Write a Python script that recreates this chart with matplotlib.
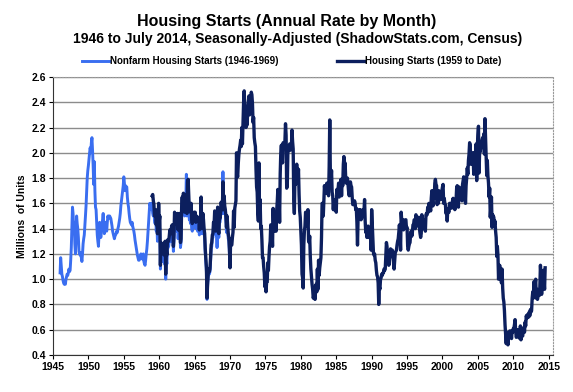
import numpy as np
import matplotlib.pyplot as plt

# Nonfarm housing starts, millions (annual rate), monthly from Jan 1946 to Dec 1969
nonfarm_start = 1946
nonfarm = [
    1.05, 1.17, 1.10, 1.04, 1.02, 0.99, 0.97, 0.96, 0.97, 0.96, 1.00, 1.02,
    1.04, 1.03, 1.05, 1.08, 1.06, 1.07, 1.15, 1.25, 1.40, 1.57, 1.52, 1.40,
    1.45, 1.28, 1.20, 1.35, 1.50, 1.44, 1.40, 1.33, 1.22, 1.20, 1.19, 1.21,
    1.17, 1.14, 1.20, 1.28, 1.32, 1.35, 1.42, 1.50, 1.58, 1.70, 1.80, 1.86,
    1.90, 1.95, 2.00, 2.04, 2.00, 2.08, 2.12, 2.02, 1.90, 1.75, 1.93, 1.70,
    1.57, 1.55, 1.45, 1.35, 1.30, 1.26, 1.35, 1.45, 1.40, 1.33, 1.38, 1.42,
    1.47, 1.52, 1.44, 1.36, 1.40, 1.45, 1.42, 1.38, 1.45, 1.50, 1.48, 1.50,
    1.50, 1.49, 1.48, 1.45, 1.42, 1.38, 1.36, 1.34, 1.32, 1.34, 1.35, 1.36,
    1.38, 1.37, 1.40, 1.42, 1.45, 1.48, 1.52, 1.58, 1.62, 1.66, 1.70, 1.74,
    1.81, 1.76, 1.70, 1.74, 1.72, 1.73, 1.65, 1.60, 1.57, 1.52, 1.48, 1.45,
    1.44, 1.43, 1.45, 1.42, 1.40, 1.38, 1.35, 1.31, 1.28, 1.25, 1.22, 1.19,
    1.17, 1.15, 1.15, 1.16, 1.18, 1.20, 1.17, 1.16, 1.18, 1.20, 1.14, 1.12,
    1.11, 1.15, 1.20, 1.24, 1.30, 1.38, 1.45, 1.52, 1.60, 1.58, 1.55, 1.60,
    1.58, 1.52, 1.50, 1.55, 1.47, 1.44, 1.50, 1.38, 1.45, 1.30, 1.35, 1.50,
    1.38, 1.40, 1.08, 1.22, 1.20, 1.18, 1.14, 1.20, 1.16, 1.12, 1.22, 1.00,
    1.16, 1.12, 1.24, 1.25, 1.26, 1.30, 1.34, 1.33, 1.30, 1.36, 1.38, 1.35,
    1.22, 1.30, 1.48, 1.44, 1.40, 1.43, 1.38, 1.46, 1.32, 1.40, 1.47, 1.39,
    1.25, 1.29, 1.52, 1.60, 1.51, 1.64, 1.56, 1.50, 1.65, 1.60, 1.83, 1.50,
    1.72, 1.70, 1.60, 1.47, 1.48, 1.44, 1.50, 1.40, 1.38, 1.42, 1.45, 1.46,
    1.42, 1.47, 1.40, 1.45, 1.43, 1.38, 1.42, 1.45, 1.35, 1.42, 1.40, 1.58,
    1.36, 1.40, 1.48, 1.42, 1.36, 1.33, 1.21, 1.13, 1.06, 0.84, 0.95, 1.02,
    1.06, 1.04, 1.06, 1.14, 1.24, 1.26, 1.32, 1.33, 1.42, 1.40, 1.50, 1.42,
    1.35, 1.48, 1.25, 1.55, 1.38, 1.33, 1.45, 1.45, 1.50, 1.57, 1.53, 1.52,
    1.85, 1.52, 1.62, 1.55, 1.52, 1.46, 1.37, 1.46, 1.38, 1.32, 1.30, 1.20,
]

# Housing starts, millions (annual rate), monthly from Jan 1959 to Jul 2014
starts_start = 1959
starts = [
    1.66, 1.67, 1.62, 1.59, 1.50, 1.50, 1.55, 1.43, 1.54, 1.36, 1.42, 1.60,
    1.46, 1.50, 1.11, 1.29, 1.27, 1.25, 1.20, 1.28, 1.24, 1.19, 1.30, 1.04,
    1.23, 1.19, 1.31, 1.30, 1.30, 1.34, 1.39, 1.38, 1.36, 1.42, 1.43, 1.41,
    1.26, 1.35, 1.53, 1.49, 1.45, 1.48, 1.43, 1.52, 1.39, 1.46, 1.52, 1.44,
    1.29, 1.32, 1.57, 1.65, 1.55, 1.68, 1.58, 1.53, 1.67, 1.64, 1.63, 1.52,
    1.77, 1.79, 1.67, 1.55, 1.56, 1.53, 1.60, 1.47, 1.44, 1.48, 1.51, 1.53,
    1.47, 1.53, 1.45, 1.50, 1.48, 1.46, 1.47, 1.49, 1.39, 1.48, 1.46, 1.65,
    1.40, 1.44, 1.52, 1.47, 1.40, 1.36, 1.24, 1.16, 1.09, 0.85, 0.97, 1.04,
    1.08, 1.06, 1.08, 1.17, 1.27, 1.29, 1.35, 1.36, 1.45, 1.43, 1.54, 1.46,
    1.38, 1.52, 1.42, 1.57, 1.40, 1.36, 1.49, 1.48, 1.52, 1.61, 1.56, 1.55,
    1.77, 1.55, 1.66, 1.58, 1.55, 1.50, 1.41, 1.50, 1.42, 1.36, 1.33, 1.24,
    1.09, 1.32, 1.27, 1.27, 1.33, 1.37, 1.54, 1.41, 1.56, 1.59, 1.62, 2.00,
    1.83, 1.81, 1.92, 1.99, 2.03, 2.06, 2.10, 2.05, 2.20, 2.07, 2.25, 2.40,
    2.49, 2.36, 2.26, 2.20, 2.25, 2.22, 2.35, 2.40, 2.45, 2.30, 2.43, 2.37,
    2.48, 2.46, 2.39, 2.24, 2.28, 2.12, 2.08, 2.05, 1.87, 1.73, 1.69, 1.53,
    1.46, 1.92, 1.50, 1.63, 1.40, 1.42, 1.31, 1.17, 1.17, 1.10, 1.05, 0.94,
    1.00, 0.90, 0.98, 0.98, 1.13, 1.07, 1.18, 1.26, 1.30, 1.43, 1.42, 1.40,
    1.26, 1.56, 1.41, 1.38, 1.48, 1.48, 1.38, 1.54, 1.61, 1.71, 1.64, 1.66,
    1.45, 1.83, 2.00, 2.06, 1.96, 1.92, 2.08, 2.04, 2.08, 2.09, 2.23, 2.14,
    1.72, 1.74, 2.00, 2.02, 2.05, 2.07, 2.02, 2.03, 2.05, 2.18, 2.09, 2.03,
    1.63, 1.52, 1.80, 1.75, 1.80, 1.91, 1.76, 1.79, 1.87, 1.67, 1.54, 1.49,
    1.38, 1.27, 1.04, 1.01, 0.93, 1.27, 1.38, 1.42, 1.53, 1.51, 1.51, 1.42,
    1.55, 1.31, 1.29, 1.34, 1.18, 1.08, 1.02, 0.96, 0.92, 0.85, 0.87, 0.90,
    0.84, 0.95, 0.96, 0.90, 1.08, 0.92, 1.15, 1.03, 1.09, 1.13, 1.17, 1.33,
    1.60, 1.60, 1.50, 1.63, 1.74, 1.68, 1.74, 1.68, 1.76, 1.70, 1.69, 1.66,
    1.89, 2.26, 1.83, 1.77, 1.86, 1.69, 1.66, 1.55, 1.63, 1.55, 1.63, 1.58,
    1.53, 1.71, 1.68, 1.71, 1.76, 1.65, 1.68, 1.68, 1.79, 1.66, 1.79, 1.74,
    1.91, 1.97, 1.82, 1.92, 1.80, 1.76, 1.77, 1.80, 1.74, 1.69, 1.66, 1.71,
    1.77, 1.74, 1.73, 1.65, 1.59, 1.59, 1.59, 1.62, 1.60, 1.55, 1.56, 1.45,
    1.27, 1.48, 1.55, 1.54, 1.48, 1.55, 1.47, 1.48, 1.52, 1.52, 1.55, 1.54,
    1.63, 1.46, 1.37, 1.40, 1.33, 1.36, 1.42, 1.33, 1.37, 1.33, 1.35, 1.23,
    1.55, 1.44, 1.31, 1.21, 1.19, 1.20, 1.15, 1.13, 1.07, 1.03, 1.02, 0.97,
    0.80, 0.94, 0.92, 1.00, 1.01, 1.04, 1.03, 1.05, 1.05, 1.08, 1.07, 1.08,
    1.18, 1.29, 1.26, 1.14, 1.15, 1.11, 1.12, 1.18, 1.24, 1.22, 1.21, 1.23,
    1.18, 1.16, 1.08, 1.15, 1.21, 1.22, 1.23, 1.27, 1.30, 1.32, 1.37, 1.43,
    1.36, 1.23, 1.53, 1.46, 1.44, 1.47, 1.39, 1.45, 1.44, 1.47, 1.47, 1.40,
    1.41, 1.26, 1.23, 1.26, 1.28, 1.29, 1.36, 1.38, 1.34, 1.37, 1.43, 1.43,
    1.47, 1.47, 1.40, 1.51, 1.47, 1.49, 1.48, 1.42, 1.49, 1.40, 1.36, 1.33,
    1.36, 1.51, 1.46, 1.40, 1.42, 1.47, 1.43, 1.38, 1.51, 1.52, 1.51, 1.57,
    1.53, 1.60, 1.58, 1.57, 1.54, 1.64, 1.70, 1.61, 1.58, 1.70, 1.64, 1.76,
    1.79, 1.75, 1.74, 1.59, 1.67, 1.60, 1.70, 1.66, 1.63, 1.63, 1.69, 1.70,
    1.73, 1.75, 1.60, 1.64, 1.60, 1.59, 1.52, 1.56, 1.46, 1.55, 1.54, 1.53,
    1.60, 1.60, 1.56, 1.59, 1.59, 1.62, 1.64, 1.56, 1.62, 1.55, 1.60, 1.62,
    1.72, 1.74, 1.66, 1.57, 1.73, 1.69, 1.65, 1.66, 1.72, 1.62, 1.75, 1.78,
    1.81, 1.63, 1.73, 1.60, 1.74, 1.80, 1.88, 1.83, 1.94, 1.99, 2.08, 2.06,
    1.91, 1.91, 2.00, 2.00, 1.96, 1.83, 2.00, 2.00, 1.90, 2.07, 1.78, 2.04,
    2.14, 2.21, 1.84, 2.02, 2.01, 2.05, 2.04, 2.10, 2.12, 2.07, 2.15, 1.99,
    2.27, 2.12, 1.97, 1.82, 1.94, 1.82, 1.76, 1.65, 1.72, 1.49, 1.57, 1.65,
    1.41, 1.51, 1.50, 1.49, 1.43, 1.46, 1.38, 1.33, 1.18, 1.26, 1.19, 1.00,
    1.07, 1.11, 1.00, 1.01, 0.97, 1.08, 0.93, 0.85, 0.82, 0.75, 0.64, 0.56,
    0.49, 0.58, 0.51, 0.48, 0.54, 0.58, 0.59, 0.59, 0.59, 0.53, 0.59, 0.58,
    0.61, 0.61, 0.64, 0.68, 0.59, 0.54, 0.55, 0.60, 0.59, 0.54, 0.55, 0.53,
    0.63, 0.52, 0.59, 0.55, 0.55, 0.61, 0.62, 0.58, 0.66, 0.63, 0.71, 0.69,
    0.72, 0.72, 0.70, 0.74, 0.71, 0.76, 0.74, 0.75, 0.85, 0.90, 0.85, 0.98,
    0.89, 0.96, 1.00, 0.85, 0.92, 0.84, 0.89, 0.88, 0.87, 0.94, 1.11, 1.02,
    0.88, 0.95, 0.96, 1.07, 1.00, 0.92, 1.09,
]

year_ticks = list(range(1945, 2020, 5))
value_ticks = [0.4, 0.6, 0.8, 1.0, 1.2, 1.4, 1.6, 1.8, 2.0, 2.2, 2.4, 2.6]

LIGHT = '#3a6ef0'
DARK = '#0c1f5e'

plt.rcParams['font.family'] = ['Liberation Sans', 'DejaVu Sans']

fig = plt.figure(figsize=(5.73, 3.92), dpi=100)
ax = fig.add_axes([0.0925, 0.0944, 0.8725, 0.7092])

x_light = nonfarm_start + np.arange(len(nonfarm)) / 12
x_dark = starts_start + np.arange(len(starts)) / 12

ax.plot(x_light, nonfarm, color=LIGHT, lw=2.1, label='Nonfarm Housing Starts (1946-1969)')
ax.plot(x_dark, starts, color=DARK, lw=2.4, label='Housing Starts (1959 to Date)')

ax.set_xlim(1945, 2015.6)
ax.set_ylim(0.4, 2.6)
ax.set_xticks(year_ticks)
ax.set_yticks(value_ticks)
ax.set_yticklabels(['%.1f' % v for v in value_ticks])
ax.tick_params(labelsize=7.5, length=3, width=0.8, pad=2)
for lab in ax.get_xticklabels() + ax.get_yticklabels():
    lab.set_fontweight('bold')

ax.grid(axis='y', color='#8c8c8c', lw=1.0)
ax.set_axisbelow(True)
for side in ['top', 'right']:
    ax.spines[side].set_color('#9a9a9a')
    ax.spines[side].set_linestyle(':')
for side in ['left', 'bottom']:
    ax.spines[side].set_color('#333333')

ax.set_ylabel('Millions  of Units', fontsize=7.5, fontweight='bold', labelpad=3)

fig.text(0.5, 0.944, 'Housing Starts (Annual Rate by Month)', ha='center', va='center',
         fontsize=11.5, fontweight='bold')
fig.text(0.52, 0.90, '1946 to July 2014, Seasonally-Adjusted (ShadowStats.com, Census)',
         ha='center', va='center', fontsize=10, fontweight='bold')

fig.legend(loc='center', bbox_to_anchor=(0.509, 0.844), ncol=2, frameon=False,
           prop={'size': 7, 'weight': 'bold'}, handlelength=2.8, handletextpad=0.1,
           columnspacing=6.0)

fig.savefig('out.png', dpi=100)
